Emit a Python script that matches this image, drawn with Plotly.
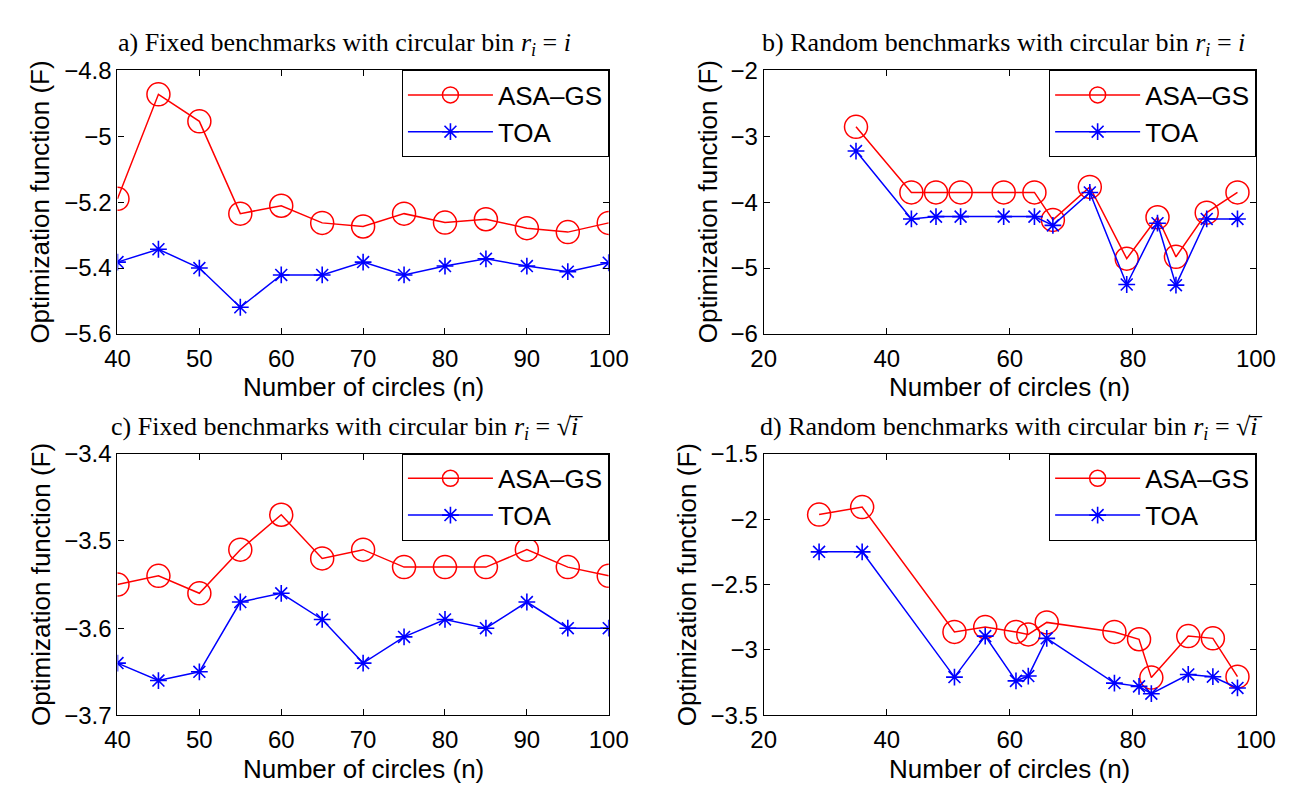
import plotly.graph_objects as go

# ---------------- data ----------------
x_a = [40, 45, 50, 55, 60, 65, 70, 75, 80, 85, 90, 95, 100]
asa_a = [-5.19, -4.873, -4.955, -5.235, -5.211, -5.263, -5.274, -5.235, -5.262, -5.252, -5.279, -5.291, -5.263]
toa_a = [-5.382, -5.343, -5.40, -5.519, -5.421, -5.421, -5.382, -5.421, -5.394, -5.372, -5.394, -5.411, -5.384]

x_b = [35, 44, 48, 52, 59, 64, 67, 73, 79, 84, 87, 92, 97]
asa_b = [-2.858, -3.853, -3.853, -3.853, -3.853, -3.853, -4.27, -3.77, -4.858, -4.23, -4.83, -4.16, -3.853]
toa_b = [-3.225, -4.255, -4.22, -4.22, -4.22, -4.22, -4.353, -3.853, -5.25, -4.32, -5.26, -4.255, -4.255]

x_c = [40, 45, 50, 55, 60, 65, 70, 75, 80, 85, 90, 95, 100]
asa_c = [-3.55, -3.54, -3.56, -3.51, -3.47, -3.52, -3.51, -3.53, -3.53, -3.53, -3.51, -3.53, -3.54]
toa_c = [-3.64, -3.66, -3.65, -3.57, -3.56, -3.59, -3.64, -3.61, -3.59, -3.60, -3.57, -3.60, -3.60]

x_d = [29, 36, 51, 56, 61, 63, 66, 77, 81, 83, 89, 93, 97]
asa_d = [-1.965, -1.908, -2.862, -2.825, -2.862, -2.881, -2.789, -2.862, -2.918, -3.211, -2.894, -2.911, -3.204]
toa_d = [-2.25, -2.25, -3.207, -2.894, -3.236, -3.199, -2.911, -3.253, -3.278, -3.334, -3.187, -3.204, -3.29]

titles = [
    "a) Fixed benchmarks with circular bin <i>r</i><sub><i>i</i></sub> = <i>i</i>",
    "b) Random benchmarks with circular bin <i>r</i><sub><i>i</i></sub> = <i>i</i>",
    "c) Fixed benchmarks with circular bin <i>r</i><sub><i>i</i></sub> = √<i>i\u0305</i>",
    "d) Random benchmarks with circular bin <i>r</i><sub><i>i</i></sub> = √<i>i\u0305</i>",
]
series_names = ["ASA\u2013GS", "TOA"]
x_ranges = [[40, 100], [20, 100], [40, 100], [20, 100]]
x_dticks = [10, 20, 10, 20]
y_ranges = [[-5.6, -4.8], [-6, -2], [-3.7, -3.4], [-3.5, -1.5]]
y_dticks = [0.2, 1, 0.1, 0.5]
x_label = "Number of circles (n)"
y_label = "Optimization function (F)"

# ---------------- layout geometry ----------------
W, H = 1304, 789
col_px = [(99, 603), (762, 1267)]
row_px = [(50, 323), (447, 718)]
title_cx = [332, 1008, 334, 1016]
ylab_gap = [79, 57, 79, 79]
SANS = "Liberation Sans, Arial, sans-serif"
SERIF = "Liberation Serif, DejaVu Serif, serif"
FS_TICK = 24
FS_LAB = 26

panels = [
    (x_a, asa_a, toa_a), (x_b, asa_b, toa_b),
    (x_c, asa_c, toa_c), (x_d, asa_d, toa_d),
]

fig = go.Figure()
annotations = []
for k, (xs, ya, yt) in enumerate(panels):
    r, c = divmod(k, 2)
    sfx = "" if k == 0 else str(k + 1)
    lg = "legend" + sfx
    fig.add_trace(go.Scatter(
        x=xs, y=ya, name=series_names[0], mode="lines+markers",
        line=dict(color="#ff0000", width=1.5),
        marker=dict(symbol="circle-open", size=23, color="#ff0000", line=dict(width=1.5)),
        xaxis="x" + sfx, yaxis="y" + sfx, legend=lg))
    fig.add_trace(go.Scatter(
        x=xs, y=yt, name=series_names[1], mode="lines+markers",
        line=dict(color="#0000ff", width=1.5),
        marker=dict(symbol="asterisk-open", size=14, color="#0000ff", line=dict(width=1.6)),
        xaxis="x" + sfx, yaxis="y" + sfx, legend=lg))

    x0, x1 = col_px[c]
    y0, y1 = row_px[r]
    dx = [x0 / W, x1 / W]
    dy = [1 - y1 / H, 1 - y0 / H]
    axcommon = dict(showline=True, linecolor="black", linewidth=1.2, mirror="allticks",
                    ticks="inside", ticklen=6, tickcolor="black", showgrid=False,
                    zeroline=False, tickfont=dict(family=SANS, size=FS_TICK, color="black"))
    fig.update_layout(**{
        "xaxis" + sfx: dict(domain=dx, range=x_ranges[k], dtick=x_dticks[k], tick0=0,
                            anchor="y" + sfx, ticklabelstandoff=3, **axcommon),
        "yaxis" + sfx: dict(domain=dy, range=y_ranges[k], dtick=y_dticks[k], tick0=0,
                            anchor="x" + sfx, **axcommon),
        lg: dict(x=x1 / W, y=1 - y0 / H, xanchor="right", yanchor="top",
                 bgcolor="white", bordercolor="black", borderwidth=1.2,
                 font=dict(family=SANS, size=FS_LAB, color="black"),
                 itemwidth=85, tracegroupgap=0),
    })
    cx = (x0 + x1) / 2
    annotations.append(dict(text=titles[k], x=title_cx[k] / W, y=1 - (y0 - 27) / H,
                            xref="paper", yref="paper",
                            showarrow=False, xanchor="center", yanchor="middle",
                            font=dict(family=SERIF, size=26, color="black")))
    annotations.append(dict(text=x_label, x=cx / W, y=1 - (y1 + 55) / H, xref="paper", yref="paper",
                            showarrow=False, xanchor="center", yanchor="middle",
                            font=dict(family=SANS, size=FS_LAB, color="black")))
    annotations.append(dict(text=y_label, x=(x0 - ylab_gap[k]) / W, y=1 - ((y0 + y1) / 2) / H,
                            xref="paper", yref="paper", textangle=-90,
                            showarrow=False, xanchor="center", yanchor="middle",
                            font=dict(family=SANS, size=FS_LAB, color="black")))

fig.update_layout(width=W, height=H, margin=dict(l=0, r=0, t=0, b=0),
                  paper_bgcolor="white", plot_bgcolor="white",
                  annotations=annotations, showlegend=True)
fig.write_html("out.html")
